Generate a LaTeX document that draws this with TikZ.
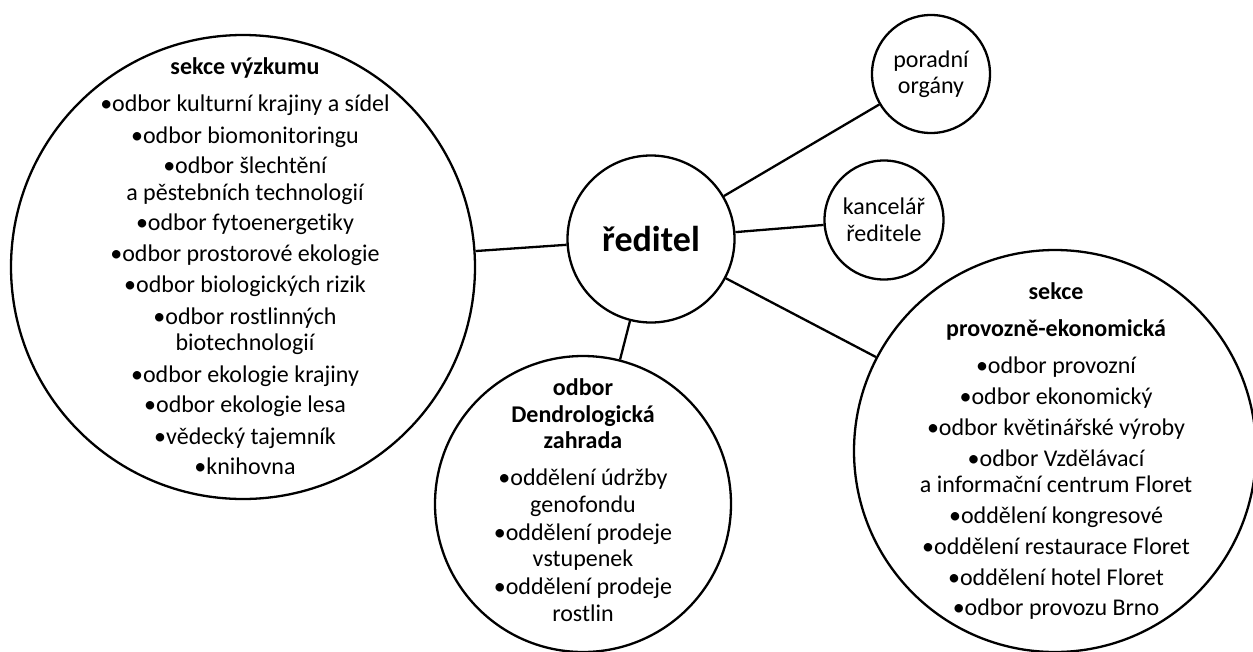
\documentclass[tikz,border=0pt]{standalone}
\usepackage{fontspec}
\setmainfont{Carlito}[Ligatures={NoCommon}]
\begin{document}
\begin{tikzpicture}[x=1pt,y=-1pt,
  circ/.style={circle,draw=black,line width=2.3pt,inner sep=0pt},
  txt/.style={align=center,inner sep=0pt,font=\fontsize{24}{26.5}\selectfont},
  conn/.style={draw=black,line width=2.3pt}]
\useasboundingbox (0,0) rectangle (1253,651);
% circles
\node[circ,minimum size=464pt] (vyz) at (243,267) {};
\node[circ,minimum size=167pt] (red) at (651,239) {};
\node[circ,minimum size=118pt] (por) at (931,74) {};
\node[circ,minimum size=119pt] (kan) at (884,220) {};
\node[circ,minimum size=296pt] (den) at (583,504) {};
\node[circ,minimum size=402pt] (pro) at (1055,451) {};
% connectors
\draw[conn] (red) -- (vyz);
\draw[conn] (red) -- (por);
\draw[conn] (red) -- (kan);
\draw[conn] (red) -- (den);
\draw[conn] (red) -- (pro);
% texts
\node[inner sep=0pt,font=\fontsize{36}{40}\selectfont\bfseries] (redt) at (red) {ředitel};
\node[txt] (port) at (por) {poradní\\orgány};
\node[txt] (kant) at (kan) {kancelář\\ředitele};
\node[txt] (vyzt) at (245,266.5) {\textbf{sekce výzkumu}\\[10.5pt]
•odbor kulturní krajiny a sídel\\[5pt]
•odbor biomonitoringu\\[4pt]
•odbor šlechtění\\
a pěstebních technologií\\[4pt]
•odbor fytoenergetiky\\[4pt]
•odbor prostorové ekologie\\[5pt]
•odbor biologických rizik\\[5pt]
•odbor rostlinných\\
biotechnologií\\[5pt]
•odbor ekologie krajiny\\[4pt]
•odbor ekologie lesa\\[5pt]
•vědecký tajemník\\[4pt]
•knihovna};
\node[txt] (dent) at (583,500) {\textbf{odbor}\\
\textbf{Dendrologická}\\
\textbf{zahrada}\\[10.5pt]
•oddělení údržby\\
genofondu\\[1.5pt]
•oddělení prodeje\\
vstupenek\\[1.5pt]
•oddělení prodeje\\
rostlin};
\node[txt] (prot) at (1056,451.5) {\textbf{sekce}\\[10.5pt]
\textbf{provozně-ekonomická}\\[10.5pt]
•odbor provozní\\[4pt]
•odbor ekonomický\\[5pt]
•odbor květinářské výroby\\[4pt]
•odbor Vzdělávací\\
a informační centrum Floret\\[4pt]
•oddělení kongresové\\[5pt]
•oddělení restaurace Floret\\[4pt]
•oddělení hotel Floret\\[4pt]
•odbor provozu Brno};
\end{tikzpicture}
\end{document}
